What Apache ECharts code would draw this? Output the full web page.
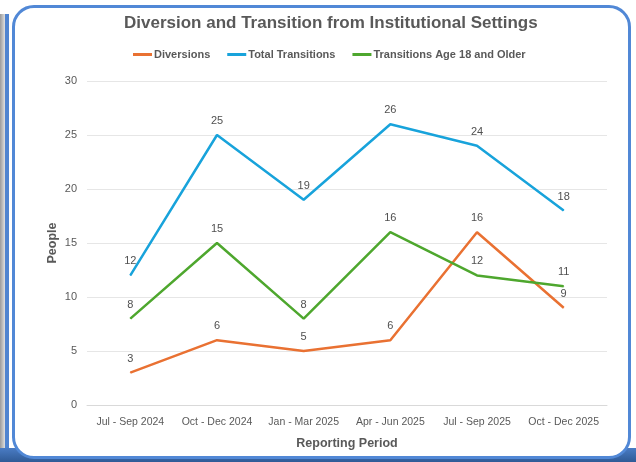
<!DOCTYPE html>
<html>
<head>
<meta charset="utf-8">
<script src="https://cdn.jsdelivr.net/npm/echarts@6/dist/echarts.min.js"></script>
<style>
  html, body { margin: 0; padding: 0; background: #fff; }
  #wrap { position: relative; width: 636px; height: 462px; overflow: hidden; }
  #leftStrip { position: absolute; left: 0; top: 14px; width: 5px; height: 448px;
    background: linear-gradient(to right, #9a9a9a, #e0e0e0); border-right: 4px solid #4f84d0; }
  #bottomBand { position: absolute; left: 0; top: 448px; width: 636px; height: 14px;
    background: linear-gradient(to bottom, #4a7cc4, #2f5a96); }
  #box { position: absolute; left: 12px; top: 5px; width: 613px; height: 448px;
    background: #fff; border: 3px solid #5188d6; border-radius: 22px; }
  #myChart { position: absolute; left: 0; top: 0; width: 636px; height: 462px; }
</style>
</head>
<body>
<div id="wrap">
  <div id="leftStrip"></div>
  <div id="bottomBand"></div>
  <div id="box"></div>
  <div id="myChart"></div>
</div>
<script>
// 数据
var periods = ["Jul - Sep 2024", "Oct - Dec 2024", "Jan - Mar 2025", "Apr - Jun 2025", "Jul - Sep 2025", "Oct - Dec 2025"];
var diversions = [3, 6, 5, 6, 16, 9];
var totalTransitions = [12, 25, 19, 26, 24, 18];
var transitions18 = [8, 15, 8, 16, 12, 11];
var yTicks = [0, 5, 10, 15, 20, 25, 30];

var sans = "'Liberation Sans', Arial, sans-serif";

function lineSeries(name, data, color) {
  return {
    name: name,
    type: "line",
    data: data,
    symbol: "circle",
    symbolSize: 1,
    showSymbol: true,
    lineStyle: { color: color, width: 2.5 },
    itemStyle: { color: color },
    label: {
      show: true,
      position: "top",
      distance: 8,
      color: "#505050",
      fontSize: 11,
      fontFamily: sans
    },
    z: 3
  };
}

var myChart = echarts.init(document.getElementById("myChart"), null, { renderer: "canvas" });
myChart.setOption({
  backgroundColor: "transparent",
  animation: false,
  title: {
    text: "Diversion and Transition from Institutional Settings",
    left: 119,
    top: 10,
    textStyle: { color: "#595959", fontSize: 17, fontWeight: "bold", fontFamily: sans }
  },
  legend: {
    top: 44,
    left: 128,
    itemWidth: 19,
    itemHeight: 3,
    itemGap: 17,
    icon: "rect",
    textStyle: { color: "#595959", fontSize: 11, fontWeight: "bold", fontFamily: sans, padding: [0, 0, 0, -3] },
    data: ["Diversions", "Total Transitions", "Transitions Age 18 and Older"]
  },
  grid: { left: 87, right: 29, top: 81, bottom: 57 },
  xAxis: {
    type: "category",
    data: periods,
    boundaryGap: true,
    axisLine: { lineStyle: { color: "#d9d9d9", width: 1 } },
    axisTick: { show: false },
    axisLabel: { color: "#595959", fontSize: 10.5, fontFamily: sans, margin: 12, interval: 0 },
    name: "Reporting Period",
    nameLocation: "middle",
    nameGap: 32,
    nameMoveOverlap: false,
    nameTextStyle: { color: "#595959", fontSize: 12.5, fontWeight: "bold", fontFamily: sans }
  },
  yAxis: {
    type: "value",
    min: yTicks[0],
    max: yTicks[yTicks.length - 1],
    interval: 5,
    axisLine: { show: false },
    axisTick: { show: false },
    splitLine: { lineStyle: { color: "#e6e6e6", width: 1 } },
    axisLabel: { color: "#595959", fontSize: 11, fontFamily: sans, margin: 10 },
    name: "People",
    nameLocation: "middle",
    nameGap: 28,
    nameMoveOverlap: false,
    nameTextStyle: { color: "#595959", fontSize: 12.5, fontWeight: "bold", fontFamily: sans }
  },
  series: [
    lineSeries("Diversions", diversions, "#E97132"),
    lineSeries("Total Transitions", totalTransitions, "#18A3DB"),
    lineSeries("Transitions Age 18 and Older", transitions18, "#4EA72E")
  ]
});
</script>
</body>
</html>
